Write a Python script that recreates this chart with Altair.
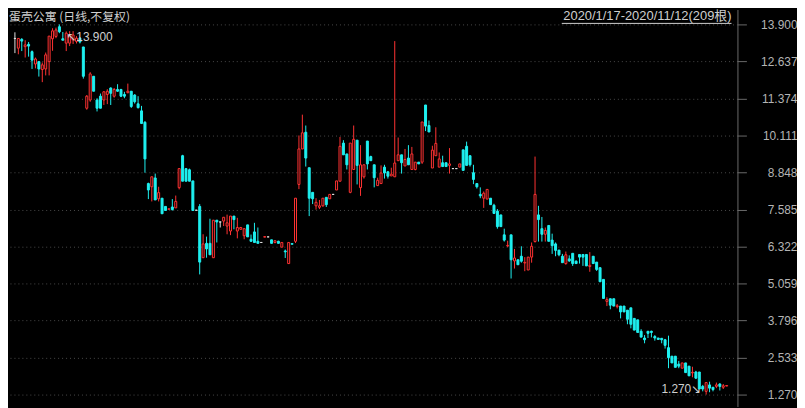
import altair as alt
import pandas as pd

title_left = "蛋壳公寓 (日线,不复权)"
title_right = "2020/1/17-2020/11/12(209根)"
y_ticks = [13.9, 12.637, 11.374, 10.111, 8.848, 7.585, 6.322, 5.059, 3.796, 2.533, 1.27]

opens = [
    13.42, 13.09, 13.39, 13.14, 13.22, 12.97, 12.55, 12.63, 12.36, 12.38,
    12.63, 13.41, 13.49, 13.82, 13.41, 13.26, 13.26, 13.37, 13.32, 13.43,
    13.13, 11.04, 11.32, 12.13, 11.32, 11.45, 11.32, 11.51, 11.73, 11.45,
    11.68, 11.68, 11.51, 11.57, 11.62, 11.49, 11.19, 10.95, 10.56, 8.47,
    8.36, 8.66, 7.95, 7.97, 7.69, 7.59, 7.67, 7.64, 8.33, 9.42,
    8.98, 8.94, 8.56, 7.56, 7.69, 5.94, 6.43, 6.43, 5.94, 7.22,
    7.16, 7.19, 7.02, 6.85, 7.36, 6.85, 6.91, 6.69, 7.06, 6.57,
    6.82, 6.50, 6.46, 6.64, 6.65, 6.55, 6.46, 6.50, 6.30, 6.17,
    5.74, 6.42, 6.50, 8.44, 9.65, 10.22, 9.01, 8.17, 7.71, 7.66,
    7.71, 8.00, 7.95, 8.10, 8.25, 8.55, 9.85, 9.48, 8.17, 8.95,
    9.95, 8.33, 8.70, 9.92, 9.39, 9.11, 8.40, 8.47, 9.03, 8.87,
    8.73, 8.70, 9.25, 9.45, 9.07, 9.34, 8.95, 8.95, 9.20, 9.20,
    11.15, 10.45, 9.00, 9.42, 9.03, 9.18, 9.18, 9.09, 8.98, 8.98,
    9.03, 9.62, 9.74, 9.42, 8.84, 8.47, 8.10, 7.97, 7.94, 7.97,
    7.73, 7.53, 7.40, 6.72, 6.34, 6.72, 5.83, 5.87, 5.99, 5.76,
    5.52, 5.96, 6.49, 7.40, 6.93, 6.74, 7.04, 6.54, 6.41, 6.20,
    5.99, 5.74, 5.90, 6.09, 5.82, 6.05, 6.05, 6.05, 5.64, 5.99,
    5.79, 5.60, 5.20, 4.45, 4.54, 4.54, 4.27, 4.29, 4.29, 4.15,
    4.23, 3.87, 3.82, 3.43, 3.20, 3.43, 3.43, 3.25, 3.20, 3.19,
    3.14, 2.87, 2.58, 2.58, 2.31, 2.17, 2.35, 2.24, 2.01, 2.04,
    2.04, 1.55, 1.38, 1.60, 1.52, 1.55, 1.63, 1.52, 1.56,
]
highs = [
    13.63, 13.42, 13.43, 13.36, 13.30, 13.01, 12.77, 12.63, 12.60, 12.94,
    13.50, 13.77, 13.79, 13.90, 13.64, 13.66, 13.67, 13.67, 13.50, 13.47,
    13.13, 11.49, 12.27, 12.13, 11.38, 11.54, 11.62, 11.69, 11.75, 11.73,
    11.86, 11.70, 11.60, 11.88, 11.62, 11.52, 11.45, 11.12, 10.60, 8.50,
    8.70, 8.81, 8.36, 7.97, 7.69, 7.61, 7.94, 8.06, 8.98, 9.45,
    8.98, 8.98, 8.56, 7.57, 7.77, 6.74, 6.66, 7.27, 7.22, 7.22,
    7.16, 7.32, 7.41, 7.36, 7.36, 7.30, 6.99, 6.93, 7.06, 6.73,
    7.13, 6.97, 6.46, 6.66, 6.65, 6.55, 6.52, 6.52, 6.46, 6.22,
    6.46, 6.42, 7.97, 10.11, 10.82, 10.45, 9.01, 8.17, 7.97, 7.91,
    7.97, 8.00, 8.10, 8.10, 8.56, 10.06, 9.95, 9.48, 9.85, 10.45,
    9.95, 9.78, 9.11, 9.92, 9.42, 9.11, 8.67, 9.09, 9.11, 8.90,
    9.01, 13.33, 10.04, 9.45, 9.65, 9.78, 9.72, 9.20, 9.20, 10.57,
    11.15, 10.62, 9.76, 10.39, 9.53, 9.42, 9.18, 9.68, 8.98, 8.98,
    9.14, 9.62, 9.90, 9.42, 9.11, 8.47, 8.34, 8.20, 8.27, 7.97,
    7.78, 7.60, 7.40, 6.93, 6.52, 6.72, 6.24, 5.87, 6.33, 5.96,
    5.96, 6.46, 9.39, 7.71, 7.33, 6.97, 7.04, 6.76, 6.46, 6.20,
    6.07, 6.15, 6.02, 6.09, 5.85, 6.05, 6.05, 6.05, 6.13, 5.99,
    5.79, 5.60, 5.20, 4.59, 4.54, 4.54, 4.36, 4.29, 4.29, 4.15,
    4.23, 3.87, 3.82, 3.50, 3.30, 3.43, 3.45, 3.30, 3.20, 3.19,
    3.17, 3.28, 2.58, 2.58, 2.42, 2.35, 2.35, 2.24, 2.22, 2.08,
    2.04, 1.60, 1.68, 1.71, 1.52, 1.68, 1.66, 1.63, 1.58,
]
lows = [
    12.92, 12.88, 12.99, 12.77, 12.80, 12.38, 12.40, 12.12, 11.93, 12.16,
    12.16, 13.00, 13.43, 13.60, 13.36, 12.99, 13.16, 13.23, 13.25, 13.25,
    12.05, 10.99, 11.26, 11.62, 10.93, 11.04, 11.15, 11.18, 11.15, 11.40,
    11.60, 11.42, 11.38, 11.55, 11.05, 11.20, 11.03, 10.50, 8.84, 7.94,
    7.86, 7.91, 7.86, 7.44, 7.55, 7.59, 7.55, 7.64, 8.27, 8.55,
    8.55, 8.55, 7.55, 7.55, 5.37, 5.94, 5.94, 6.04, 5.94, 6.46,
    6.97, 7.02, 6.74, 6.71, 6.91, 6.60, 6.89, 6.57, 6.65, 6.49,
    6.46, 6.43, 6.46, 6.64, 6.65, 6.43, 6.43, 6.43, 6.30, 5.93,
    5.74, 6.40, 6.44, 8.28, 9.65, 9.05, 7.36, 7.77, 7.58, 7.60,
    7.68, 7.67, 7.95, 8.10, 8.25, 8.55, 9.45, 8.95, 8.14, 8.95,
    8.44, 8.05, 8.64, 8.95, 9.25, 8.34, 8.40, 8.47, 8.64, 8.64,
    8.73, 8.70, 9.25, 8.81, 9.07, 9.11, 8.95, 8.92, 9.14, 9.14,
    10.26, 10.23, 9.00, 9.42, 9.03, 9.05, 9.05, 8.81, 8.98, 8.98,
    9.03, 8.92, 9.09, 9.05, 8.45, 8.30, 7.97, 7.64, 7.94, 7.75,
    7.45, 6.93, 7.00, 6.49, 6.30, 5.23, 5.57, 5.70, 5.77, 5.48,
    5.52, 5.77, 6.46, 6.49, 6.49, 6.49, 6.50, 6.07, 5.99, 5.99,
    5.77, 5.70, 5.80, 5.66, 5.74, 5.74, 5.66, 5.66, 5.46, 5.74,
    5.49, 5.12, 4.55, 4.29, 4.18, 4.29, 4.21, 3.87, 4.09, 3.67,
    3.53, 3.47, 3.39, 3.23, 3.02, 3.20, 3.22, 3.11, 3.15, 3.02,
    2.84, 2.17, 2.35, 2.20, 2.17, 2.17, 2.02, 1.91, 1.86, 1.80,
    1.46, 1.38, 1.27, 1.35, 1.38, 1.49, 1.41, 1.46, 1.56,
]
closes = [
    13.42, 13.42, 13.33, 13.20, 13.16, 12.68, 12.72, 12.38, 12.52, 12.86,
    13.50, 13.68, 13.71, 13.65, 13.36, 13.60, 13.52, 13.54, 13.43, 13.30,
    12.13, 11.45, 12.21, 11.62, 11.04, 11.04, 11.60, 11.62, 11.55, 11.68,
    11.62, 11.45, 11.45, 11.62, 11.10, 11.26, 11.06, 10.52, 9.31, 8.25,
    8.70, 7.91, 8.16, 7.44, 7.55, 7.61, 7.58, 7.86, 8.98, 8.55,
    8.55, 8.55, 7.55, 7.56, 5.79, 6.41, 6.24, 6.04, 7.22, 7.16,
    7.16, 7.32, 7.13, 7.36, 7.24, 6.97, 6.97, 6.93, 6.65, 6.50,
    6.46, 6.43, 6.46, 6.66, 6.65, 6.43, 6.52, 6.43, 6.46, 6.14,
    6.46, 6.40, 7.97, 9.65, 10.20, 9.34, 7.97, 7.95, 7.83, 7.71,
    7.97, 7.75, 8.10, 8.10, 8.56, 9.74, 9.45, 9.11, 9.85, 9.98,
    9.09, 9.11, 9.11, 9.14, 9.25, 8.67, 8.58, 8.83, 8.83, 8.72,
    8.79, 9.17, 9.45, 9.18, 9.29, 9.11, 9.48, 9.20, 9.14, 10.57,
    10.43, 10.23, 9.61, 9.84, 9.31, 9.05, 9.05, 9.14, 8.98, 8.98,
    9.14, 8.92, 9.09, 9.11, 8.61, 8.36, 8.05, 8.14, 8.27, 7.75,
    7.45, 7.00, 7.00, 6.54, 6.36, 5.87, 5.93, 5.70, 5.82, 5.78,
    5.96, 6.33, 8.10, 7.24, 6.74, 6.87, 6.50, 6.35, 6.19, 6.04,
    5.77, 6.04, 5.83, 5.74, 5.74, 5.96, 5.96, 5.66, 5.68, 5.74,
    5.54, 5.12, 4.55, 4.51, 4.32, 4.29, 4.30, 4.09, 4.09, 3.84,
    3.67, 3.47, 3.39, 3.23, 3.14, 3.36, 3.39, 3.20, 3.15, 3.14,
    2.95, 2.53, 2.35, 2.20, 2.24, 2.35, 2.02, 1.91, 2.03, 1.83,
    1.46, 1.46, 1.68, 1.49, 1.44, 1.60, 1.55, 1.57, 1.58,
]

RED = "#ff3232"
CYAN = "#1ef0f0"
FLAT = "#e0e0e0"
TXT = "#cfcfcf"
W, H = 735, 400

df = pd.DataFrame({
    "i": list(range(len(opens))),
    "open": opens, "high": highs, "low": lows, "close": closes,
})
df["dir"] = ["up" if c > o else ("down" if c < o else "flat") for o, c in zip(opens, closes)]

xs = alt.Scale(domain=[-0.57, 209.7], nice=False, zero=False)
ys = alt.Scale(domain=[0.8637, 14.4079], nice=False, zero=False)
yaxis = alt.Axis(
    orient="right", values=y_ticks, format=".3f", title=None,
    grid=True, gridColor="#4a4a4a", gridDash=[1, 3], gridWidth=1,
    domainColor="#6a6a6a", tickColor="#6a6a6a", tickSize=9,
    labelColor="#b4b4b4", labelFont="Liberation Sans", labelFontSize=12,
    labelAlign="right", labelBaseline="middle", labelPadding=51,
    labelOverlap=False, labelFlush=False, labelBound=False,
)
dirs = ["up", "down", "flat"]
color_line = alt.Color("dir:N", scale=alt.Scale(domain=dirs, range=[RED, CYAN, FLAT]), legend=None)
fill_body = alt.Fill("dir:N", scale=alt.Scale(domain=dirs, range=["#000000", CYAN, FLAT]), legend=None)
stroke_body = alt.Stroke("dir:N", scale=alt.Scale(domain=dirs, range=[RED, CYAN, FLAT]), legend=None)

X = alt.X("i:Q", scale=xs, axis=None)

wick = alt.Chart(df).mark_rule(strokeWidth=1).encode(
    x=X, y=alt.Y("low:Q", scale=ys, axis=yaxis), y2="high:Q", color=color_line
)
body = alt.Chart(df).mark_bar(size=2, strokeWidth=1).encode(
    x=X, y=alt.Y("open:Q", scale=ys, axis=yaxis), y2="close:Q",
    fill=fill_body, stroke=stroke_body,
)

imax = int(df["high"].idxmax())
imin = int(df["low"].idxmin())
maxdf = df.loc[[imax]].copy()
maxdf["label"] = "↖" + maxdf["high"].map("{:.3f}".format)
mindf = df.loc[[imin]].copy()
mindf["label"] = mindf["low"].map("{:.3f}".format) + "↘"

max_txt = alt.Chart(maxdf).mark_text(
    align="left", baseline="middle", dx=7, dy=13,
    font="Liberation Sans, DejaVu Sans", fontSize=12, color=TXT,
).encode(x=X, y=alt.Y("high:Q", scale=ys, axis=yaxis), text="label:N")
min_txt = alt.Chart(mindf).mark_text(
    align="right", baseline="middle", dx=-5, dy=-6,
    font="Liberation Sans, DejaVu Sans", fontSize=12, color=TXT,
).encode(x=X, y=alt.Y("low:Q", scale=ys, axis=yaxis), text="label:N")

tdf = pd.DataFrame({"left": [title_left], "right": [title_right]})
t_left = alt.Chart(tdf).mark_text(
    align="left", baseline="middle", font="Noto Sans CJK SC", fontSize=12, color=TXT,
).encode(x=alt.value(1), y=alt.value(8), text="left:N")
t_right = alt.Chart(tdf).mark_text(
    align="right", baseline="middle", font="Liberation Sans, Noto Sans CJK SC",
    fontSize=13, color=TXT,
).encode(x=alt.value(729), y=alt.value(7), text="right:N")
underline = alt.Chart(tdf).mark_rule(color=TXT, strokeWidth=1).encode(
    x=alt.value(558), x2=alt.value(729), y=alt.value(14)
)

chart = alt.layer(wick, body, max_txt, min_txt, t_left, t_right, underline).properties(
    width=W, height=H, padding=0, background="#000000"
).configure_view(strokeWidth=0)

chart.save("out.html", embed_options={"renderer": "svg", "actions": False})
